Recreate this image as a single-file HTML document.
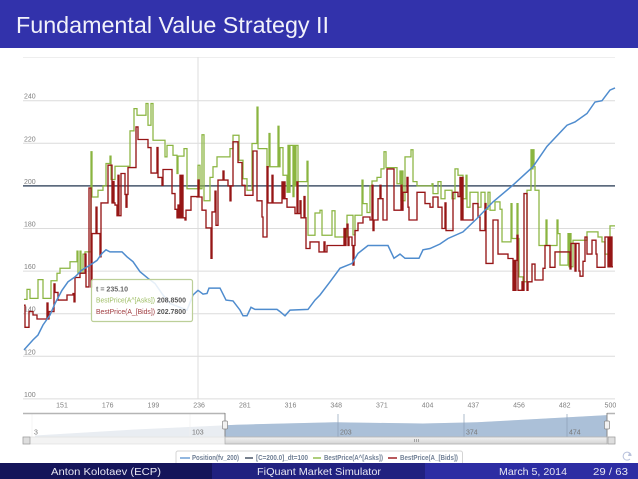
<!DOCTYPE html>
<html><head><meta charset="utf-8"><title>Fundamental Value Strategy II</title>
<style>
html,body{margin:0;padding:0;background:#fff}
svg{display:block}
text{font-family:"Liberation Sans",sans-serif}
</style></head>
<body>
<svg id="slide" xmlns="http://www.w3.org/2000/svg" width="638" height="479" viewBox="0 0 638 479">
<defs>
<filter id="soft" x="-2%" y="-2%" width="104%" height="104%"><feGaussianBlur stdDeviation="0.28"/></filter>
<linearGradient id="scrollGrad" x1="0" y1="0" x2="0" y2="1"><stop offset="0" stop-color="#f2f2f2"/><stop offset="1" stop-color="#d4d4d4"/></linearGradient>
</defs>
<rect x="0" y="0" width="638" height="479" fill="#fff"/>
<rect x="0" y="0" width="638" height="48" fill="#3232ab"/>
<text x="16" y="33" font-size="23" fill="#f2f2fa" textLength="313" lengthAdjust="spacingAndGlyphs">Fundamental Value Strategy II</text>
<g id="chart" filter="url(#soft)">
<rect x="23" y="57" width="592" height="1" fill="#eeeeee"/>
<g id="grid"></g>
<g id="navigator"></g>
<g id="series"></g>
<g>
<rect x="91.5" y="279.5" width="101" height="42" rx="2" fill="#ffffff" fill-opacity="0.86" stroke="#bccf98" stroke-width="1.2"/>
<text x="96" y="291.5" font-size="7.5" font-weight="bold" fill="#666" textLength="32" lengthAdjust="spacingAndGlyphs">t = 235.10</text>
<text x="96" y="302.5" font-size="7.5" fill="#9dbd62" textLength="59" lengthAdjust="spacingAndGlyphs">BestPrice(A^[Asks])</text>
<text x="157" y="302.5" font-size="7.5" font-weight="bold" fill="#555" textLength="29" lengthAdjust="spacingAndGlyphs">208.8500</text>
<text x="96" y="314" font-size="7.5" fill="#a03c40" textLength="59" lengthAdjust="spacingAndGlyphs">BestPrice(A_[Bids])</text>
<text x="157" y="314" font-size="7.5" font-weight="bold" fill="#555" textLength="29" lengthAdjust="spacingAndGlyphs">202.7800</text>
</g>
<g>
<rect x="176" y="451" width="286.5" height="16" rx="2" fill="#fff" stroke="#d4d4d4"/>
<line x1="180" x2="190" y1="458" y2="458" stroke="#6d9fd6" stroke-width="1.5"/>
<text x="192" y="460" font-size="7" font-weight="bold" fill="#6f7f95" textLength="47" lengthAdjust="spacingAndGlyphs">Position(fv_200)</text>
<line x1="245" x2="253" y1="458" y2="458" stroke="#4a5668" stroke-width="1.5"/>
<text x="256" y="460" font-size="7" font-weight="bold" fill="#6f7f95" textLength="52" lengthAdjust="spacingAndGlyphs">[C=200.0]_dt=100</text>
<line x1="313" x2="321" y1="458" y2="458" stroke="#93bd50" stroke-width="1.5"/>
<text x="324" y="460" font-size="7" font-weight="bold" fill="#6f7f95" textLength="59" lengthAdjust="spacingAndGlyphs">BestPrice(A^[Asks])</text>
<line x1="388" x2="397" y1="458" y2="458" stroke="#a02025" stroke-width="1.5"/>
<text x="400" y="460" font-size="7" font-weight="bold" fill="#6f7f95" textLength="58" lengthAdjust="spacingAndGlyphs">BestPrice(A_[Bids])</text>
</g>
</g>
<path d="M631 455 A4 4 0 1 0 630 459" fill="none" stroke="#b9c2dc" stroke-width="1"/>
<path d="M629 453 L632 456 L628 456 Z" fill="#b9c2dc"/>
<g>
<rect x="0" y="463" width="212" height="16" fill="#15155a"/>
<rect x="212" y="463" width="213" height="16" fill="#212180"/>
<rect x="425" y="463" width="213" height="16" fill="#2d2da3"/>
<text x="51" y="475" font-size="10.5" fill="#e6e6f2" textLength="110" lengthAdjust="spacingAndGlyphs">Anton Kolotaev  (ECP)</text>
<text x="257" y="475" font-size="10.5" fill="#e6e6f2" textLength="124" lengthAdjust="spacingAndGlyphs">FiQuant Market Simulator</text>
<text x="499" y="475" font-size="10.5" fill="#e6e6f2" textLength="68" lengthAdjust="spacingAndGlyphs">March 5, 2014</text>
<text x="593" y="475" font-size="10.5" fill="#e6e6f2" textLength="35" lengthAdjust="spacingAndGlyphs">29 / 63</text>
</g>
</svg>
<script>
const yTicks = [100,120,140,160,180,200,220,240];
const xTickLabels = ['151','176','199','236','281','316','348','371','404','437','456','482','500'];
const constantLevel = 200;
const positionSamples = [1,10,15,20,27,32,39,45,52,59,67,74,79,83,87,99,104,110,117,125,132,140,147,164,170,175,180,184,186,197,203,210,217,220,224,228,232,254,257,262,267,285,292,297,307,317,329,335,345,365,371,377,382,396,400,407,417,425,440,454,470,489,510,524,544,552,564,572,579,587,592];
const positionValues = [123,127.7,130,134.7,139.4,144.8,151,155,157.3,160.5,162.8,165,168.3,170,169,169,166.7,164.4,159.7,156.6,154.2,148.8,144.8,141.7,148.8,151,149.2,149.5,152,152,146.4,146,141.7,139,139,143,142,142,141,139,141.7,142,146.4,148.8,155,161.3,163.6,168.3,172,172,166,168,166,166,170,170.6,172.7,175.3,178.4,184.7,192.5,200,209,218.6,228.5,230,234,239.4,240,245,246];
const askSamples = [1,4,7,15,20,28,34,37,47,54,55,57,58,60,62,66,67,68,69,75,80,83,87,88,92,107,111,114,123,125,128,130,142,144,150,154,155,161,164,175,177,179,181,187,190,194,207,210,216,220,224,229,234,235,244,246,247,255,256,257,260,264,265,266,267,270,271,272,273,275,284,285,292,297,299,309,312,324,330,332,339,340,344,347,349,354,358,361,363,374,377,378,379,380,382,388,390,394,409,410,415,418,422,429,432,435,440,443,444,447,455,458,462,465,467,472,477,479,488,489,494,495,496,500,504,508,509,510,511,512,516,523,524,534,535,537,545,546,547,548,550,564,575,579,582,587];
const askValues = [146.7,151.4,147.2,156,147.2,155.5,159,161.3,164.4,169.4,159,169.4,159,168,169,169,169,216,194.8,198,200,210.5,214,203,209.2,225.8,236.3,233.2,238.7,228.5,238.7,221.4,213.6,219,214.4,205.8,214,217.5,198.7,209.7,198.7,224,193,204,209,213.6,217.5,223.8,212,203.4,198,219.9,237,217.5,209,224.6,209,228,209,218,205,197,219,197,219,195,219,200,219,202,211.6,176.8,187.3,188.6,176.8,188.3,176,186.2,177,186.2,202.7,191.7,187.5,200,202.3,204,208,216,208.6,201,207,193,207,193,213.6,217,202,200,201,196.4,202,194,198,194,208,205,194,205,190,197,190,197,189,197,188.6,192.5,189,173.7,191.7,175.3,191.7,175.3,157.3,155,198,217,208,217,209,198,172,184,172,184,177.6,162.8,177.6,162,177.6,162,174.5,178.4,176,173.7,168,181.2];
const bidSamples = [1,2,6,10,14,24,25,26,31,32,35,44,50,51,52,57,62,63,66,68,69,73,74,77,78,85,89,90,91,92,94,95,96,98,102,103,104,105,113,115,125,128,134,135,139,140,149,152,154,155,156,157,158,159,160,162,163,168,174,175,176,179,183,188,189,192,193,195,200,201,205,207,208,210,215,219,222,230,234,239,240,244,245,249,250,259,260,261,262,264,272,274,275,277,278,281,282,283,287,296,301,302,304,321,322,323,324,325,326,329,330,331,332,335,340,347,349,350,351,355,357,358,360,364,371,378,379,380,384,385,386,394,402,407,410,415,419,422,423,430,435,437,438,439,440,450,455,457,462,463,470,475,485,490,491,492,493,494,495,499,500,501,504,505,509,512,520,522,527,532,547,548,552,553,556,557,560,562,564,569,573,574,582,585,586,587,588,589,590];
const bidValues = [144,133.6,141,139.4,137.5,145,137.5,141,154,150,146.4,148.8,149.5,145.6,157,159,168,152.6,199,152.6,177.6,190,177.6,166.7,192,209.7,192,202,192,191,186,205,186,205.8,196,190,196,208.6,227.7,221.8,218,206,218,204,200.3,207.7,196.4,189,185,191,185,205,185,205,185,184,188.6,195,194.8,202.7,194.8,188.6,180.3,166,187.8,197.5,181.5,202.7,207,202.7,200,193,200,220.7,211,200.3,195.6,216.4,193,185.4,176,209,192,205,192,201.9,194,201.9,194,190,187,201.9,187,193,185,195,185,170.6,173.7,169,173.7,169,172,180,172,180,182,172,176,172,162.8,172,179,182.6,185.4,184,200.3,179,184,194,200.3,194,184,208,188.6,200.3,188.6,197,204,190,184,197,191.7,190,194.8,190,180,192,179,197,195,204,184,204,184,191.7,185.4,179,191.7,163.6,184,168,165.9,151,165,151,165,176.8,151,155,151,196.4,151,155,163.3,155.8,161.3,172,161.8,169,161,173,160,173,160,157.6,164.6,176,168,174.5,168,161.8,176,162,176,162,176,162];
const overviewSamples = [0,100,202,300,388,442,572];
const overviewValues = [1,6,10,12,11,12,18];
const overviewTickLabels = ['3','103','203','374','474'];

const NS = 'http://www.w3.org/2000/svg';
const plotLeft = 23, plotWidth = 592, sampleCount = 592;
const yAt240 = 100.7, pxPerUnit = 2.13;
function xScale(s){ return plotLeft + s * plotWidth / sampleCount; }
function yScale(v){ return yAt240 + (240 - v) * pxPerUnit; }
function ovY(v){ return 436.7 - v * 1.2; }
function mk(tag, parent, attrs){
  const e = document.createElementNS(NS, tag);
  for (const k in attrs) e.setAttribute(k, attrs[k]);
  parent.appendChild(e);
  return e;
}
function stepPath(xs, vs){
  let d = 'M' + xScale(xs[0]).toFixed(1) + ' ' + yScale(vs[0]).toFixed(1);
  for (let i = 1; i < xs.length; i++){
    d += 'H' + xScale(xs[i]).toFixed(1) + 'V' + yScale(vs[i]).toFixed(1);
  }
  return d + 'H' + xScale(sampleCount).toFixed(1);
}
function linePath(xs, vs){
  return xs.map(function(x, i){ return (i ? 'L' : 'M') + xScale(x).toFixed(1) + ' ' + yScale(vs[i]).toFixed(1); }).join('');
}
const grid = document.getElementById('grid');
yTicks.forEach(function(t){
  const l = mk('line', grid, {x1:plotLeft, x2:plotLeft+plotWidth, y1:yScale(t), y2:yScale(t), stroke:'#dcdcdc', 'stroke-width':1});
  
  
  const tx = mk('text', grid, {x:24, y:yScale(t)-2, 'font-size':7, fill:'#808080'});
  
  
  tx.textContent = t;
});
const cursor = mk('line', grid, {x1:198, x2:198, y1:57, y2:yScale(100), stroke:'#dddddd', 'stroke-width':1});


xTickLabels.forEach(function(t, i){
  const tx = mk('text', grid, {x:xScale(39 + i * 45.7), y:407.5, 'font-size':7, fill:'#808080', 'text-anchor':'middle'});
  
  
  tx.textContent = t;
});
const series = document.getElementById('series');
const constantLine = mk('line', series, {x1:plotLeft, x2:plotLeft+plotWidth, y1:yScale(constantLevel), y2:yScale(constantLevel), stroke:'#46566c', 'stroke-width':1.5});


const askLine = mk('path', series, {d:stepPath(askSamples, askValues), fill:'none', stroke:'#8ab540', 'stroke-width':1.25});


const bidLine = mk('path', series, {d:stepPath(bidSamples, bidValues), fill:'none', stroke:'#961418', 'stroke-width':1.35});


const posLine = mk('path', series, {d:linePath(positionSamples, positionValues), fill:'none', stroke:'#4f8cce', 'stroke-width':1.5});



const nav = document.getElementById('navigator');
const navLeft = 225, navRight = 607;
const allPts = overviewSamples.map(function(s, i){ return [xScale(s + 12), ovY(overviewValues[i])]; });
const wholeArea = 'M' + allPts.map(function(p){ return p[0].toFixed(1) + ' ' + p[1].toFixed(1); }).join('L') + 'L' + allPts[allPts.length-1][0].toFixed(1) + ' 436.7L' + allPts[0][0].toFixed(1) + ' 436.7Z';
const clipDefs = mk('clipPath', nav, {id:'selClip'});
mk('rect', clipDefs, {x:navLeft, y:410, width:navRight-navLeft, height:30});
const faint = mk('path', nav, {d:wholeArea, fill:'#e9edf2'});


const sel = mk('path', nav, {d:wholeArea, fill:'#abc0d8', 'clip-path':'url(#selClip)'});


const navTickX = [32, 190, 338, 464, 567];
overviewTickLabels.forEach(function(t, i){
  const gl = mk('line', nav, {x1:navTickX[i], x2:navTickX[i], y1:414, y2:437, stroke: i < 2 ? '#efefef' : '#8c9fb6', 'stroke-width':0.7});
  
  
  const tx = mk('text', nav, {x:navTickX[i]+2, y:434.5, 'font-size':7, fill:'#777'});
  
  
  tx.textContent = t;
});
const topL = mk('line', nav, {x1:23, x2:navLeft, y1:413.5, y2:413.5, stroke:'#b5b5b5', 'stroke-width':1.5});


const topR = mk('line', nav, {x1:navRight, x2:615, y1:413.5, y2:413.5, stroke:'#b5b5b5', 'stroke-width':1.5});


const leftEdge = mk('line', nav, {x1:navLeft, x2:navLeft, y1:413, y2:444, stroke:'#888', 'stroke-width':1});


const rightEdge = mk('line', nav, {x1:navRight, x2:navRight, y1:413, y2:444, stroke:'#888', 'stroke-width':1});


const track = mk('rect', nav, {x:23, y:437, width:592, height:7, fill:'#f3f3f3', stroke:'#dddddd', 'stroke-width':0.6});


const thumb = mk('rect', nav, {x:navLeft, y:437, width:navRight-navLeft, height:7, fill:'url(#scrollGrad)', stroke:'#aaaaaa', 'stroke-width':0.7});


const grip = mk('path', nav, {d:'M414.5 439V442M416.5 439V442M418.5 439V442', stroke:'#888', 'stroke-width':0.7, fill:'none'});


const btnL = mk('rect', nav, {x:23, y:437, width:7, height:7, fill:'#dedede', stroke:'#999', 'stroke-width':0.7});


const btnR = mk('rect', nav, {x:608, y:437, width:7, height:7, fill:'#dedede', stroke:'#999', 'stroke-width':0.7});


const hL = mk('rect', nav, {x:navLeft-2.5, y:421, width:5, height:8, rx:1, fill:'#f2f2f2', stroke:'#888', 'stroke-width':0.7});


const hR = mk('rect', nav, {x:navRight-2.5, y:421, width:5, height:8, rx:1, fill:'#f2f2f2', stroke:'#888', 'stroke-width':0.7});


</script>
</body></html>
